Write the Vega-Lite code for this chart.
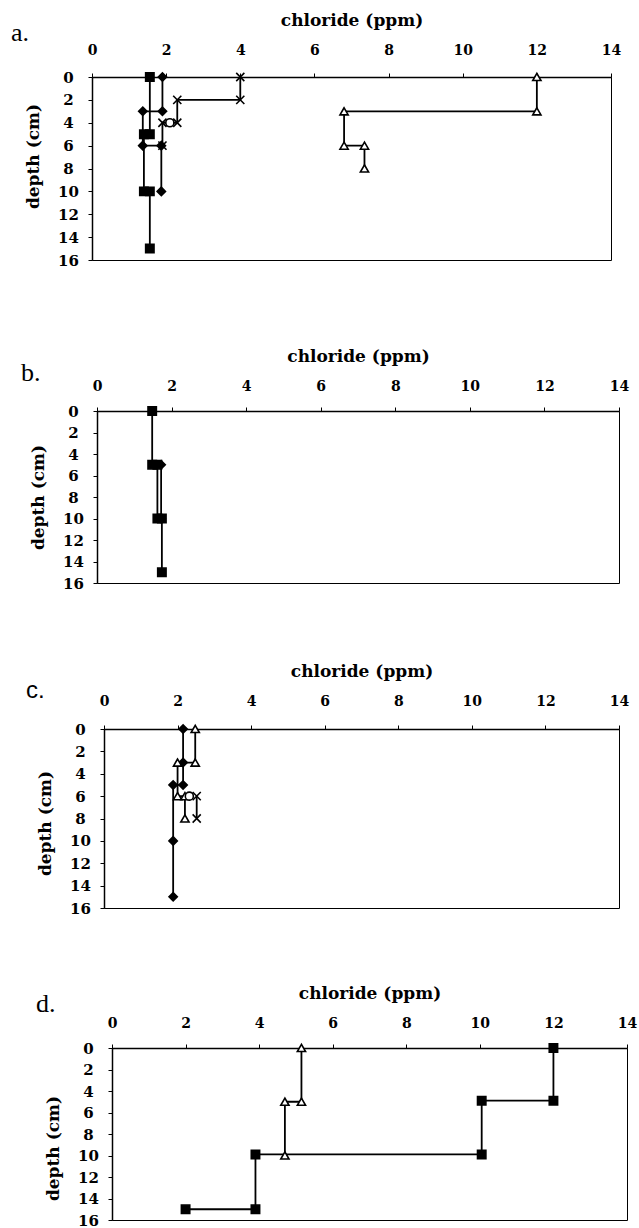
{
  "$schema": "https://vega.github.io/schema/vega-lite/v6.json",
  "background": "white",
  "padding": {"left": 3, "top": 10, "right": 0, "bottom": 0},
  "data": {"values": [
    {"p": "a", "s": "square", "o": 1, "cl": 1.56, "d": 0},
    {"p": "a", "s": "square", "o": 2, "cl": 1.56, "d": 5},
    {"p": "a", "s": "square", "o": 3, "cl": 1.4, "d": 5},
    {"p": "a", "s": "square", "o": 4, "cl": 1.4, "d": 10},
    {"p": "a", "s": "square", "o": 5, "cl": 1.56, "d": 10},
    {"p": "a", "s": "square", "o": 6, "cl": 1.56, "d": 15},
    {"p": "a", "s": "diamond", "o": 1, "cl": 1.9, "d": 0},
    {"p": "a", "s": "diamond", "o": 2, "cl": 1.9, "d": 3},
    {"p": "a", "s": "diamond", "o": 3, "cl": 1.37, "d": 3},
    {"p": "a", "s": "diamond", "o": 4, "cl": 1.37, "d": 6},
    {"p": "a", "s": "diamond", "o": 5, "cl": 1.87, "d": 6},
    {"p": "a", "s": "diamond", "o": 6, "cl": 1.87, "d": 10},
    {"p": "a", "s": "cross", "o": 1, "cl": 4.0, "d": 0},
    {"p": "a", "s": "cross", "o": 2, "cl": 4.0, "d": 2},
    {"p": "a", "s": "cross", "o": 3, "cl": 2.3, "d": 2},
    {"p": "a", "s": "cross", "o": 4, "cl": 2.3, "d": 4},
    {"p": "a", "s": "cross", "o": 5, "cl": 1.9, "d": 4},
    {"p": "a", "s": "cross", "o": 6, "cl": 1.9, "d": 6},
    {"p": "a", "s": "circle", "o": 1, "cl": 2.1, "d": 4},
    {"p": "a", "s": "triangle", "o": 1, "cl": 12.0, "d": 0},
    {"p": "a", "s": "triangle", "o": 2, "cl": 12.0, "d": 3},
    {"p": "a", "s": "triangle", "o": 3, "cl": 6.8, "d": 3},
    {"p": "a", "s": "triangle", "o": 4, "cl": 6.8, "d": 6},
    {"p": "a", "s": "triangle", "o": 5, "cl": 7.35, "d": 6},
    {"p": "a", "s": "triangle", "o": 6, "cl": 7.35, "d": 8},
    {"p": "b", "s": "square", "o": 1, "cl": 1.48, "d": 0},
    {"p": "b", "s": "square", "o": 2, "cl": 1.48, "d": 5},
    {"p": "b", "s": "square", "o": 3, "cl": 1.62, "d": 5},
    {"p": "b", "s": "square", "o": 4, "cl": 1.62, "d": 10},
    {"p": "b", "s": "square", "o": 5, "cl": 1.74, "d": 10},
    {"p": "b", "s": "square", "o": 6, "cl": 1.74, "d": 15},
    {"p": "b", "s": "diamond", "o": 1, "cl": 1.72, "d": 5},
    {"p": "b", "s": "diamond", "o": 2, "cl": 1.72, "d": 10},
    {"p": "c", "s": "diamond", "o": 1, "cl": 2.15, "d": 0},
    {"p": "c", "s": "diamond", "o": 2, "cl": 2.15, "d": 3},
    {"p": "c", "s": "diamond", "o": 3, "cl": 2.15, "d": 5},
    {"p": "c", "s": "diamond", "o": 4, "cl": 1.88, "d": 5},
    {"p": "c", "s": "diamond", "o": 5, "cl": 1.88, "d": 10},
    {"p": "c", "s": "diamond", "o": 6, "cl": 1.88, "d": 15},
    {"p": "c", "s": "triangle", "o": 1, "cl": 2.48, "d": 0},
    {"p": "c", "s": "triangle", "o": 2, "cl": 2.48, "d": 3},
    {"p": "c", "s": "triangle", "o": 3, "cl": 2.0, "d": 3},
    {"p": "c", "s": "triangle", "o": 4, "cl": 2.0, "d": 6},
    {"p": "c", "s": "triangle", "o": 5, "cl": 2.2, "d": 6},
    {"p": "c", "s": "triangle", "o": 6, "cl": 2.2, "d": 8},
    {"p": "c", "s": "cross", "o": 1, "cl": 2.52, "d": 6},
    {"p": "c", "s": "cross", "o": 2, "cl": 2.52, "d": 8},
    {"p": "c", "s": "circle", "o": 1, "cl": 2.32, "d": 6},
    {"p": "d", "s": "triangle", "o": 1, "cl": 5.15, "d": 0},
    {"p": "d", "s": "triangle", "o": 2, "cl": 5.15, "d": 5},
    {"p": "d", "s": "triangle", "o": 3, "cl": 4.7, "d": 5},
    {"p": "d", "s": "triangle", "o": 4, "cl": 4.7, "d": 10},
    {"p": "d", "s": "square", "o": 1, "cl": 12.0, "d": 0},
    {"p": "d", "s": "square", "o": 2, "cl": 12.0, "d": 4.9},
    {"p": "d", "s": "square", "o": 3, "cl": 10.05, "d": 4.9},
    {"p": "d", "s": "square", "o": 4, "cl": 10.05, "d": 9.9},
    {"p": "d", "s": "square", "o": 5, "cl": 3.9, "d": 9.9},
    {"p": "d", "s": "square", "o": 6, "cl": 3.9, "d": 15},
    {"p": "d", "s": "square", "o": 7, "cl": 2.0, "d": 15}
  ]},
  "spacing": 77,
  "vconcat": [
    {
      "spacing": 0,
      "hconcat": [
        {"width": 7, "height": 1, "data": {"values": []}, "mark": "point", "encoding": {}, "view": {"stroke": null}},
        {
          "width": 519, "height": 183,
          "title": {"text": "a.", "anchor": "start", "frame": "group", "dx": -81, "dy": 56, "offset": 0, "baseline": "alphabetic", "font": "Liberation Serif", "fontSize": 26, "fontWeight": "normal", "color": "black"},
          "transform": [{"filter": "datum.p === 'a'"}],
          "encoding": {
            "x": {"field": "cl", "type": "quantitative", "scale": {"domain": [0, 14], "nice": false, "zero": false}, "axis": {"orient": "top", "title": "chloride (ppm)", "values": [0, 2, 4, 6, 8, 10, 12, 14], "labelPadding": 16}},
            "y": {"field": "d", "type": "quantitative", "scale": {"domain": [0, 16], "reverse": true, "nice": false}, "axis": {"title": "depth (cm)", "values": [0, 2, 4, 6, 8, 10, 12, 14, 16], "titleY": 79}}
          },
          "layer": [
            {"mark": {"type": "line", "color": "black", "strokeWidth": 1.8}, "encoding": {"detail": {"field": "s"}, "order": {"field": "o", "type": "quantitative"}}},
            {"mark": {"type": "point", "filled": true, "opacity": 1, "stroke": "black", "strokeWidth": 1.6},
             "encoding": {
               "shape": {"field": "s", "type": "nominal", "scale": {"domain": ["square", "diamond", "triangle", "cross", "circle"], "range": ["square", "diamond", "triangle-up", "M-1,-1L1,1M-1,1L1,-1", "circle"]}, "legend": null},
               "fill": {"field": "s", "type": "nominal", "scale": {"domain": ["square", "diamond", "triangle", "cross", "circle"], "range": ["black", "black", "white", "white", "white"]}, "legend": null},
               "size": {"field": "s", "type": "nominal", "scale": {"domain": ["square", "diamond", "triangle", "cross", "circle"], "range": [70, 65, 85, 110, 60]}, "legend": null}
             }}
          ]
        }
      ]
    },
    {
      "spacing": 69,
      "vconcat": [
        {
          "spacing": 0,
          "hconcat": [
            {"width": 17, "height": 1, "data": {"values": []}, "mark": "point", "encoding": {}, "view": {"stroke": null}},
            {
              "width": 522, "height": 172,
              "title": {"text": "b.", "anchor": "start", "frame": "group", "dx": -76, "dy": 60, "offset": 0, "baseline": "alphabetic", "font": "Liberation Serif", "fontSize": 26, "fontWeight": "normal", "color": "black"},
              "transform": [{"filter": "datum.p === 'b'"}],
              "encoding": {
                "x": {"field": "cl", "type": "quantitative", "scale": {"domain": [0, 14], "nice": false, "zero": false}, "axis": {"orient": "top", "title": "chloride (ppm)", "values": [0, 2, 4, 6, 8, 10, 12, 14], "labelPadding": 14}},
                "y": {"field": "d", "type": "quantitative", "scale": {"domain": [0, 16], "reverse": true, "nice": false}, "axis": {"title": "depth (cm)", "values": [0, 2, 4, 6, 8, 10, 12, 14, 16], "titleY": 86}}
              },
              "layer": [
                {"mark": {"type": "line", "color": "black", "strokeWidth": 1.8}, "encoding": {"detail": {"field": "s"}, "order": {"field": "o", "type": "quantitative"}}},
                {"mark": {"type": "point", "filled": true, "opacity": 1, "stroke": "black", "strokeWidth": 1.6},
                 "encoding": {
                   "shape": {"field": "s", "type": "nominal", "scale": {"domain": ["square", "diamond", "triangle", "cross", "circle"], "range": ["square", "diamond", "triangle-up", "M-1,-1L1,1M-1,1L1,-1", "circle"]}, "legend": null},
                   "fill": {"field": "s", "type": "nominal", "scale": {"domain": ["square", "diamond", "triangle", "cross", "circle"], "range": ["black", "black", "white", "white", "white"]}, "legend": null},
                   "size": {"field": "s", "type": "nominal", "scale": {"domain": ["square", "diamond", "triangle", "cross", "circle"], "range": [70, 65, 85, 110, 60]}, "legend": null}
                 }}
              ]
            }
          ]
        },
        {
          "spacing": 66,
          "vconcat": [
            {
              "spacing": 0,
              "hconcat": [
                {"width": 22, "height": 1, "data": {"values": []}, "mark": "point", "encoding": {}, "view": {"stroke": null}},
                {
                  "width": 515, "height": 179,
                  "title": {"text": "c.", "anchor": "start", "frame": "group", "dx": -78, "dy": 60, "offset": 0, "baseline": "alphabetic", "font": "Liberation Sans", "fontSize": 24, "fontWeight": "normal", "color": "black"},
                  "transform": [{"filter": "datum.p === 'c'"}],
                  "encoding": {
                    "x": {"field": "cl", "type": "quantitative", "scale": {"domain": [0, 14], "nice": false, "zero": false}, "axis": {"orient": "top", "title": "chloride (ppm)", "values": [0, 2, 4, 6, 8, 10, 12, 14], "labelPadding": 17}},
                    "y": {"field": "d", "type": "quantitative", "scale": {"domain": [0, 16], "reverse": true, "nice": false}, "axis": {"title": "depth (cm)", "values": [0, 2, 4, 6, 8, 10, 12, 14, 16], "titleY": 94}}
                  },
                  "layer": [
                    {"mark": {"type": "line", "color": "black", "strokeWidth": 1.8}, "encoding": {"detail": {"field": "s"}, "order": {"field": "o", "type": "quantitative"}}},
                    {"mark": {"type": "point", "filled": true, "opacity": 1, "stroke": "black", "strokeWidth": 1.6},
                     "encoding": {
                       "shape": {"field": "s", "type": "nominal", "scale": {"domain": ["square", "diamond", "triangle", "cross", "circle"], "range": ["square", "diamond", "triangle-up", "M-1,-1L1,1M-1,1L1,-1", "circle"]}, "legend": null},
                       "fill": {"field": "s", "type": "nominal", "scale": {"domain": ["square", "diamond", "triangle", "cross", "circle"], "range": ["black", "black", "white", "white", "white"]}, "legend": null},
                       "size": {"field": "s", "type": "nominal", "scale": {"domain": ["square", "diamond", "triangle", "cross", "circle"], "range": [70, 65, 85, 110, 60]}, "legend": null}
                     }}
                  ]
                }
              ]
            },
            {
              "spacing": 0,
              "hconcat": [
                {"width": 32, "height": 1, "data": {"values": []}, "mark": "point", "encoding": {}, "view": {"stroke": null}},
                {
                  "width": 515, "height": 172,
                  "title": {"text": "d.", "anchor": "start", "frame": "group", "dx": -76, "dy": 54, "offset": 0, "baseline": "alphabetic", "font": "Liberation Serif", "fontSize": 26, "fontWeight": "normal", "color": "black"},
                  "transform": [{"filter": "datum.p === 'd'"}],
                  "encoding": {
                    "x": {"field": "cl", "type": "quantitative", "scale": {"domain": [0, 14], "nice": false, "zero": false}, "axis": {"orient": "top", "title": "chloride (ppm)", "values": [0, 2, 4, 6, 8, 10, 12, 14], "labelPadding": 14}},
                    "y": {"field": "d", "type": "quantitative", "scale": {"domain": [0, 16], "reverse": true, "nice": false}, "axis": {"title": "depth (cm)", "values": [0, 2, 4, 6, 8, 10, 12, 14, 16], "titleY": 100}}
                  },
                  "layer": [
                    {"mark": {"type": "line", "color": "black", "strokeWidth": 1.8}, "encoding": {"detail": {"field": "s"}, "order": {"field": "o", "type": "quantitative"}}},
                    {"mark": {"type": "point", "filled": true, "opacity": 1, "stroke": "black", "strokeWidth": 1.6},
                     "encoding": {
                       "shape": {"field": "s", "type": "nominal", "scale": {"domain": ["square", "diamond", "triangle", "cross", "circle"], "range": ["square", "diamond", "triangle-up", "M-1,-1L1,1M-1,1L1,-1", "circle"]}, "legend": null},
                       "fill": {"field": "s", "type": "nominal", "scale": {"domain": ["square", "diamond", "triangle", "cross", "circle"], "range": ["black", "black", "white", "white", "white"]}, "legend": null},
                       "size": {"field": "s", "type": "nominal", "scale": {"domain": ["square", "diamond", "triangle", "cross", "circle"], "range": [70, 65, 85, 110, 60]}, "legend": null}
                     }}
                  ]
                }
              ]
            }
          ]
        }
      ]
    }
  ],
  "config": {
    "view": {"stroke": "black", "strokeWidth": 1},
    "axis": {"grid": false, "domainColor": "black", "domainWidth": 1.5, "tickColor": "black", "tickSize": 4, "tickWidth": 1, "labelFont": "DejaVu Serif", "labelFontWeight": "bold", "labelFontSize": 14, "labelColor": "black", "titleFont": "DejaVu Serif", "titleFontWeight": "bold", "titleFontSize": 17, "titleColor": "black", "labelFlush": false, "labelOverlap": false},
    "axisX": {"titlePadding": 14},
    "axisY": {"labelAlign": "center", "labelPadding": 20, "titlePadding": 15, "labelFontSize": 15}
  }
}
